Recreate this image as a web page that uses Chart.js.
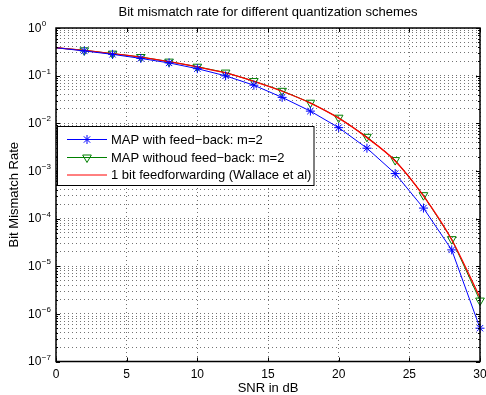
<!DOCTYPE html>
<html>
<head>
<meta charset="utf-8">
<script src="https://cdn.jsdelivr.net/npm/chart.js@4"></script>
<style>
  html, body { margin: 0; padding: 0; background: #fff; overflow: hidden; }
  #wrap { width: 486px; height: 395px; }
</style>
</head>
<body>
<div id="wrap"><canvas id="berChart"></canvas></div>
<script>
// SNR values in dB
const snr = [0, 2, 4, 6, 8, 10, 12, 14, 16, 18, 20, 22, 24, 26, 28, 30];

// bit mismatch rates
const mapFeedback   = [0.385, 0.33, 0.28, 0.23, 0.185, 0.14, 0.099, 0.063, 0.035, 0.018, 0.0081, 0.0030, 8.8e-4, 1.66e-4, 2.2e-5, 5.0e-7];
const mapNoFeedback = [0.385, 0.34, 0.29, 0.246, 0.197, 0.154, 0.116, 0.077, 0.048, 0.027, 0.0131, 0.0052, 1.69e-3, 3.1e-4, 3.7e-5, 1.9e-6];
const feedforward   = [0.385, 0.338, 0.289, 0.244, 0.196, 0.152, 0.114, 0.076, 0.047, 0.0265, 0.0128, 0.0050, 1.62e-3, 3.0e-4, 3.6e-5, 2.2e-6];

const labels = ['MAP with feed\u2212back: m=2', 'MAP withoud feed\u2212back: m=2', '1 bit feedforwarding (Wallace et al)'];
const xTicks = [0, 5, 10, 15, 20, 25, 30];
const yExponents = [0, -1, -2, -3, -4, -5, -6, -7];

const FONT = 'Liberation Sans, Arial, Helvetica, sans-serif';

// no marker on the first point (x = 0)
function markerRadius(r) {
  return snr.map((v, i) => i === 0 ? 0 : r);
}

// log ticks at 1..9 x 10^n for the grid
function logTicks() {
  const out = [];
  for (let e = -7; e < 0; e++) {
    for (let m = 1; m <= 9; m++) out.push({ value: m * Math.pow(10, e) });
  }
  out.push({ value: 1 });
  return out;
}

// draws the box, inner ticks, tick labels, titles and legend like matlab
const matlabLook = {
  id: 'matlabLook',
  afterDraw(chart) {
    const ctx = chart.ctx;
    const a = chart.chartArea;
    const xs = chart.scales.x;
    const ys = chart.scales.y;
    ctx.save();

    // inner tick marks
    ctx.strokeStyle = '#000';
    ctx.lineWidth = 1;
    ctx.beginPath();
    xTicks.forEach(v => {
      const px = Math.round(xs.getPixelForValue(v)) + 0.5;
      ctx.moveTo(px, a.bottom); ctx.lineTo(px, a.bottom - 4);
      ctx.moveTo(px, a.top); ctx.lineTo(px, a.top + 4);
    });
    logTicks().forEach(t => {
      const py = Math.round(ys.getPixelForValue(t.value)) + 0.5;
      const major = Math.abs(Math.log10(t.value) - Math.round(Math.log10(t.value))) < 1e-9;
      const len = major ? 4 : 2;
      ctx.moveTo(a.left, py); ctx.lineTo(a.left + len, py);
      ctx.moveTo(a.right, py); ctx.lineTo(a.right - len, py);
    });
    ctx.stroke();

    // box
    ctx.lineWidth = 1.5;
    ctx.strokeRect(a.left, a.top, a.right - a.left, a.bottom - a.top);

    // x tick labels
    ctx.fillStyle = '#000';
    ctx.font = '12px ' + FONT;
    ctx.textAlign = 'center';
    ctx.textBaseline = 'middle';
    xTicks.forEach(v => {
      ctx.fillText(String(v), xs.getPixelForValue(v), a.bottom + 13);
    });

    // y tick labels 10^n
    yExponents.forEach(e => {
      const py = ys.getPixelForValue(Math.pow(10, e));
      ctx.font = '12px ' + FONT;
      ctx.textAlign = 'left';
      ctx.fillText('10', 28, py + 0.5);
      const w = ctx.measureText('10').width;
      ctx.font = '8px ' + FONT;
      ctx.fillText(e === 0 ? '0' : '\u2212' + Math.abs(e), 28 + w + 0.5, py - 4);
    });

    // titles
    ctx.font = '13px ' + FONT;
    ctx.textAlign = 'center';
    const cx = (a.left + a.right) / 2;
    ctx.fillText('Bit mismatch rate for different quantization schemes', cx, 12);
    ctx.fillText('SNR in dB', cx, 388);
    ctx.save();
    ctx.translate(14, (a.top + a.bottom) / 2);
    ctx.rotate(-Math.PI / 2);
    ctx.fillText('Bit Mismatch Rate', 0, 0);
    ctx.restore();

    // legend
    const box = { l: 57.5, t: 126.5, r: 314, b: 185.5 };
    ctx.fillStyle = '#fff';
    ctx.fillRect(box.l, box.t, box.r - box.l, box.b - box.t);
    ctx.strokeStyle = '#000';
    ctx.lineWidth = 1;
    ctx.strokeRect(box.l, box.t, box.r - box.l, box.b - box.t);
    const rows = [139.5, 157.5, 175];
    [0, 1, 2].forEach((di, i) => {
      const ds = chart.data.datasets[di];
      const y = rows[i];
      ctx.strokeStyle = ds.borderColor;
      ctx.lineWidth = 1;
      ctx.beginPath();
      ctx.moveTo(67, y); ctx.lineTo(107, y);
      ctx.stroke();
      if (ds.pointStyle) {
        ctx.fillStyle = ds.backgroundColor;
        ctx.strokeStyle = ds.borderColor;
        Chart.helpers.drawPoint(ctx, {
          pointStyle: ds.pointStyle,
          rotation: ds.pointRotation || 0,
          radius: ds.legendRadius,
          borderWidth: 1
        }, 87, y);
      }
      ctx.fillStyle = '#000';
      ctx.font = '13px ' + FONT;
      ctx.textAlign = 'left';
      ctx.fillText(ds.label, 111, Math.round(y) + 0.5);
    });

    ctx.restore();
  }
};

const ctx = document.getElementById('berChart').getContext('2d');
new Chart(ctx, {
  type: 'line',
  data: {
    labels: snr,
    datasets: [
      {
        label: labels[0],
        data: snr.map((x, i) => ({ x: x, y: mapFeedback[i] })),
        borderColor: '#0000ff',
        backgroundColor: '#0000ff',
        borderWidth: 1,
        pointStyle: 'star',
        pointRadius: markerRadius(4.5),
        legendRadius: 4.5,
        pointBorderWidth: 1,
        tension: 0,
        clip: false,
        order: 0
      },
      {
        label: labels[1],
        data: snr.map((x, i) => ({ x: x, y: mapNoFeedback[i] })),
        borderColor: '#008000',
        backgroundColor: 'rgba(0,0,0,0)',
        borderWidth: 1,
        pointStyle: 'triangle',
        pointRotation: 180,
        pointRadius: markerRadius(5),
        legendRadius: 5,
        pointBorderWidth: 1,
        tension: 0,
        clip: false,
        order: 2
      },
      {
        label: labels[2],
        data: snr.map((x, i) => ({ x: x, y: feedforward[i] })),
        borderColor: '#ff0000',
        backgroundColor: '#ff0000',
        borderWidth: 1.3,
        pointStyle: false,
        pointRadius: 0,
        cubicInterpolationMode: 'monotone',
        clip: false,
        order: 1
      }
    ]
  },
  options: {
    responsive: true,
    maintainAspectRatio: false,
    animation: false,
    events: [],
    layout: { padding: { top: 28, right: 6, left: 0, bottom: 0 } },
    plugins: {
      legend: { display: false },
      tooltip: { enabled: false },
      title: { display: false }
    },
    scales: {
      x: {
        type: 'linear',
        min: 0,
        max: 30,
        ticks: { display: false, stepSize: 5 },
        grid: { color: 'rgba(0,0,0,0.55)', lineWidth: 1, drawTicks: false },
        border: { display: false, dash: [1, 3] },
        afterFit(scale) { scale.height = 33.5; }
      },
      y: {
        type: 'logarithmic',
        min: 1e-7,
        max: 1,
        ticks: { display: false },
        afterBuildTicks(scale) { scale.ticks = logTicks(); },
        grid: { color: 'rgba(0,0,0,0.55)', lineWidth: 1, drawTicks: false },
        border: { display: false, dash: [1, 3] },
        afterFit(scale) { scale.width = 56; }
      }
    }
  },
  plugins: [matlabLook]
});
</script>
</body>
</html>
